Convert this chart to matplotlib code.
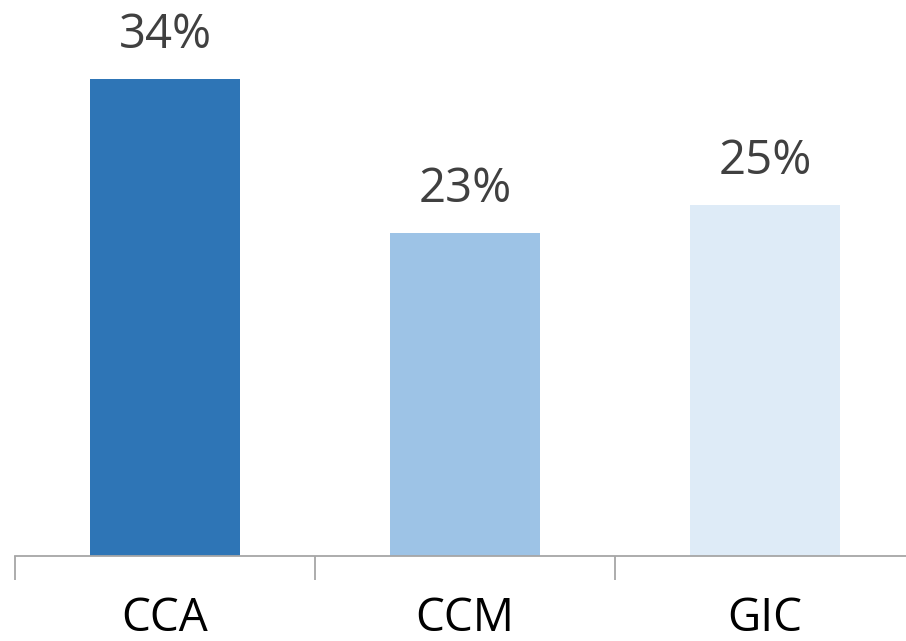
import matplotlib.pyplot as plt
import numpy as np

categories = ["CCA", "CCM", "GIC"]
values = [34, 23, 25]
labels = ["34%", "23%", "25%"]
colors = ["#2E75B6", "#9DC3E6", "#DEEBF7"]

plt.rcParams['font.family'] = ['Open Sans', 'DejaVu Sans']

fig = plt.figure(figsize=(9.06, 6.41), dpi=100)
ax = fig.add_axes([15 / 906, 85 / 641, 900 / 906, 556 / 641])

x = np.arange(len(categories))
ax.bar(x, values, width=0.5, color=colors)

for xi, v, lab in zip(x, values, labels):
    ax.text(xi, v + 1.4, lab, ha='center', va='bottom', fontsize=34, color='#404040')

ax.set_xlim(-0.5, 2.5)
ax.set_ylim(0, 39.6)
ax.set_xticks(x)
ax.set_xticklabels(categories, fontsize=33, color='black')
ax.set_xticks([-0.5, 0.5, 1.5, 2.5], minor=True)
ax.tick_params(axis='x', which='major', length=0, pad=29)
ax.tick_params(axis='x', which='minor', length=17, color='#A6A6A6', width=1.3)
ax.set_yticks([])
for s in ['top', 'right', 'left']:
    ax.spines[s].set_visible(False)
ax.spines['bottom'].set_color('#A6A6A6')
ax.spines['bottom'].set_linewidth(1.3)

fig.savefig("out.png", dpi=100)
